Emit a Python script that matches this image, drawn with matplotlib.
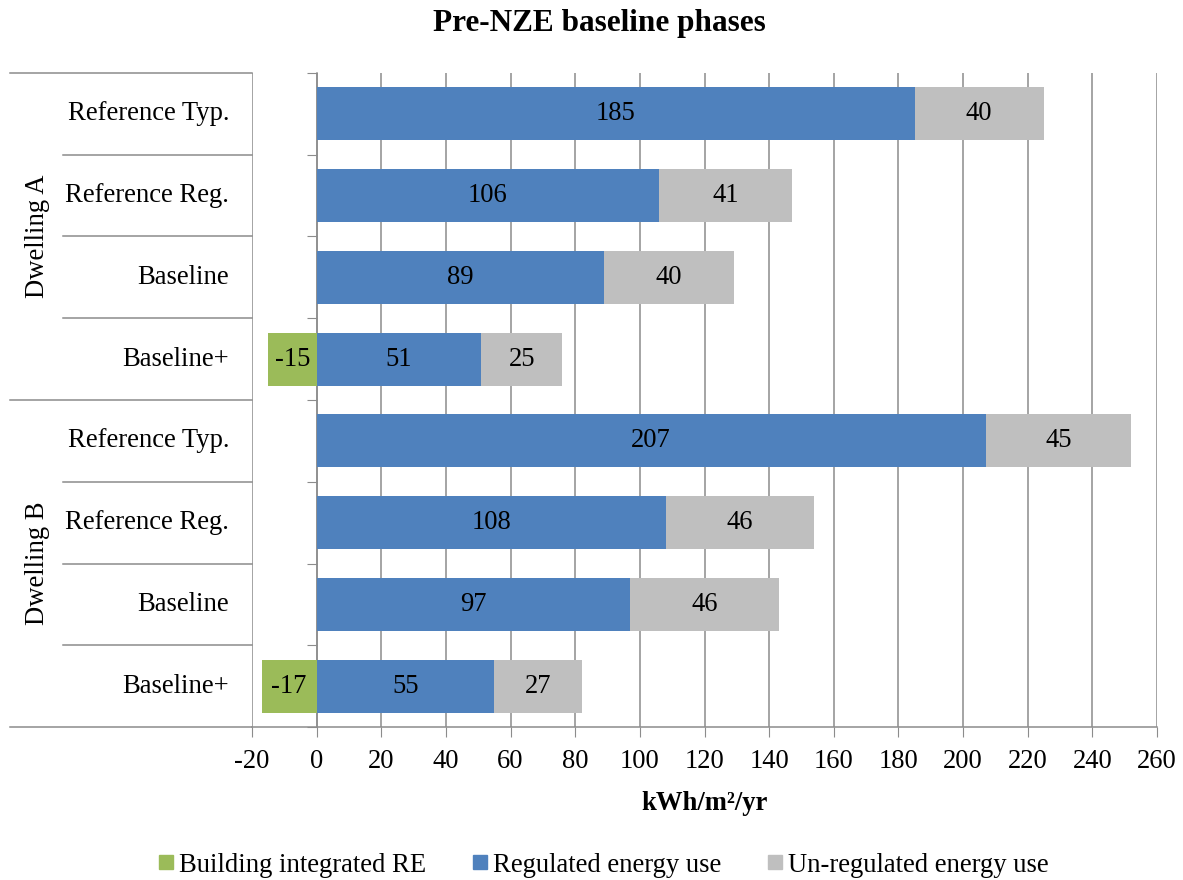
import matplotlib.pyplot as plt
import matplotlib.transforms as mtransforms
from matplotlib.lines import Line2D
import numpy as np

plt.rcParams["font.family"] = ["Liberation Serif", "DejaVu Serif"]
plt.rcParams["axes.unicode_minus"] = False

groups = ["Dwelling A", "Dwelling B"]
phases = ["Reference Typ.", "Reference Reg.", "Baseline", "Baseline+"]

# one entry per bar, top to bottom (Dwelling A then Dwelling B)
re_gen = [0, 0, 0, -15, 0, 0, 0, -17]
regulated = [185, 106, 89, 51, 207, 108, 97, 55]
unregulated = [40, 41, 40, 25, 45, 46, 46, 27]

series_names = ["Building integrated RE", "Regulated energy use", "Un-regulated energy use"]
colors = ["#9BBB59", "#4F81BD", "#BFBFBF"]
line_col = "#8C8C8C"
fs = 19.2

fig = plt.figure(figsize=(11.83, 8.80), dpi=100)
ax = fig.add_axes([252 / 1183, 1 - 727 / 880, 905 / 1183, 654 / 880])

n = len(regulated)
y = np.arange(n) + 0.5
h = 0.65

ax.barh(y, re_gen, height=h, color=colors[0], zorder=3)
ax.barh(y, regulated, height=h, color=colors[1], zorder=3)
ax.barh(y, unregulated, left=regulated, height=h, color=colors[2], zorder=3)

for i in range(n):
    if re_gen[i] != 0:
        ax.text(re_gen[i] / 2, y[i], str(re_gen[i]), ha="center", va="center",
                fontsize=fs, zorder=4)
    ax.text(regulated[i] / 2, y[i], str(regulated[i]), ha="center", va="center",
            fontsize=fs, zorder=4)
    ax.text(regulated[i] + unregulated[i] / 2, y[i], str(unregulated[i]),
            ha="center", va="center", fontsize=fs, zorder=4)

ax.set_xlim(-20, 260)
ax.set_ylim(n, 0)
ax.set_xticks(np.arange(-20, 261, 20))
ax.tick_params(axis="x", labelsize=fs, length=7, color=line_col, pad=9)
ax.grid(axis="x", color=line_col, linewidth=1.1, zorder=0)

# category axis sits on x = 0 with ticks at the bar boundaries
ax.spines["left"].set_position(("data", 0))
ax.spines["left"].set_color(line_col)
ax.spines["left"].set_linewidth(1.1)
ax.set_yticks(np.arange(0, n + 1))
ax.set_yticklabels([])
ax.tick_params(axis="y", length=7, color=line_col, direction="out")
for s in ["top", "right"]:
    ax.spines[s].set_visible(False)
ax.spines["bottom"].set_color(line_col)
ax.spines["bottom"].set_linewidth(1.1)

ax.set_xlabel("kWh/m²/yr", fontsize=fs, fontweight="bold", labelpad=12)
fig.text(0.507, 1 - 24 / 880, "Pre-NZE baseline phases", fontsize=22.5,
         fontweight="bold", ha="center", va="center")

# two-level category labels to the left of the plot
tr = mtransforms.blended_transform_factory(ax.transAxes, ax.transData)
x_outer = (10 - 252) / 905
x_inner = (63 - 252) / 905
x_lab = (229 - 252) / 905
x_grp = (37 - 252) / 905
per = len(phases)
for g, name in enumerate(groups):
    for k, ph in enumerate(phases):
        idx = g * per + k
        ax.text(x_lab, y[idx], ph, transform=tr, ha="right", va="center", fontsize=fs)
        if k > 0:
            ax.plot([x_inner, 0], [idx, idx], transform=tr, color=line_col,
                    linewidth=1.1, clip_on=False)
    ax.text(x_grp, g * per + per / 2, name, transform=tr, ha="center", va="center",
            rotation=90, fontsize=fs)
for b in range(len(groups) + 1):
    ax.plot([x_outer, 0], [b * per, b * per], transform=tr, color=line_col,
            linewidth=1.1, clip_on=False)

handles = [Line2D([], [], marker="s", linestyle="none", markersize=10,
                  markerfacecolor=c, markeredgecolor=c) for c in colors]
fig.legend(handles, series_names, loc="center", bbox_to_anchor=(0.510, 0.017),
           ncol=3, frameon=False, fontsize=fs, handlelength=0.6,
           handletextpad=0.2, columnspacing=1.7)

fig.savefig("out.png", dpi=100)
